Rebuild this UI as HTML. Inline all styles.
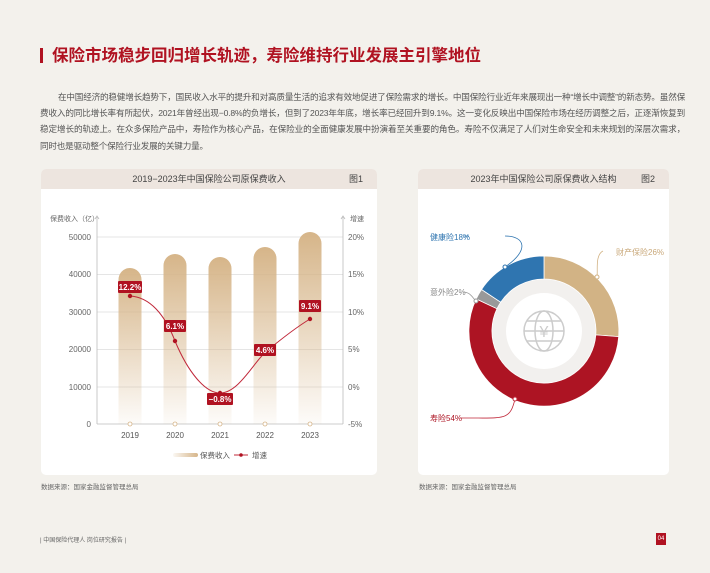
<!DOCTYPE html>
<html><head><meta charset="utf-8"><style>
body{margin:0;width:710px;height:573px;background:#f3f1ec;font-family:"Liberation Sans","Noto Sans CJK SC",sans-serif;position:relative;overflow:hidden}
.t{position:absolute;left:40px;top:42px;font-size:16.5px;font-weight:bold;color:#b01221;letter-spacing:0px}
.t:before{content:"";display:inline-block;width:3px;height:15px;background:#b01221;margin-right:9px;vertical-align:-2px}
.p{position:absolute;left:40px;top:89px;width:645px;font-size:8.6px;line-height:16.2px;color:#555;text-indent:18px;text-align:justify;letter-spacing:-0.2px}
.card{position:absolute;background:#fff;border-radius:5px;overflow:hidden}
.hd{height:20px;background:#ede5df;font-size:9px;color:#444;line-height:20px;text-align:center;position:relative}
.hd span{position:absolute;right:14px}
.src{position:absolute;font-size:6.5px;color:#666}
</style></head><body>
<div class="t">保险市场稳步回归增长轨迹，寿险维持行业发展主引擎地位</div>
<div class="p">在中国经济的稳健增长趋势下，国民收入水平的提升和对高质量生活的追求有效地促进了保险需求的增长。中国保险行业近年来展现出一种“增长中调整”的新态势。虽然保费收入的同比增长率有所起伏，2021年曾经出现−0.8%的负增长，但到了2023年年底，增长率已经回升到9.1%。这一变化反映出中国保险市场在经历调整之后，正逐渐恢复到稳定增长的轨迹上。在众多保险产品中，寿险作为核心产品，在保险业的全面健康发展中扮演着至关重要的角色。寿险不仅满足了人们对生命安全和未来规划的深层次需求，同时也是驱动整个保险行业发展的关键力量。</div>

<div class="card" style="left:41px;top:169px;width:336px;height:306px">
<div class="hd">2019−2023年中国保险公司原保费收入<span>图1</span></div>
</div>
<div class="card" style="left:418px;top:169px;width:251px;height:306px">
<div class="hd">2023年中国保险公司原保费收入结构<span>图2</span></div>
</div>

<svg style="position:absolute;left:0;top:0" width="710" height="573" font-family="Liberation Sans, Noto Sans CJK SC, sans-serif">
<defs><linearGradient id="g" x1="0" y1="0" x2="0" y2="1"><stop offset="0" stop-color="#d6b589"/><stop offset="1" stop-color="#d6b589" stop-opacity="0.05"/></linearGradient>
<linearGradient id="gl" x1="0" x2="1"><stop offset="0" stop-color="#d6b589" stop-opacity="0.1"/><stop offset="1" stop-color="#d6b589"/></linearGradient></defs>
<g stroke="#ddd" stroke-width="0.8">
<line x1="97" x2="343" y1="237" y2="237"/><line x1="97" x2="343" y1="274.5" y2="274.5"/><line x1="97" x2="343" y1="312" y2="312"/><line x1="97" x2="343" y1="349.5" y2="349.5"/><line x1="97" x2="343" y1="387" y2="387"/></g>
<g stroke="#bbb" stroke-width="0.8" fill="none"><line x1="97" y1="217" x2="97" y2="424"/><line x1="343" y1="217" x2="343" y2="424"/><line x1="97" y1="424" x2="343" y2="424"/>
<path d="M95 219 L97 216 L99 219 M341 219 L343 216 L345 219"/></g>
<g font-size="8" fill="#666" text-anchor="end"><text x="91" y="240">50000</text><text x="91" y="277">40000</text><text x="91" y="315">30000</text><text x="91" y="352">20000</text><text x="91" y="390">10000</text><text x="91" y="427">0</text></g>
<g font-size="8" fill="#666"><text x="348" y="240">20%</text><text x="348" y="277">15%</text><text x="348" y="315">10%</text><text x="348" y="352">5%</text><text x="348" y="390">0%</text><text x="348" y="427">-5%</text>
<text x="50" y="221" font-size="7">保费收入（亿）</text><text x="350" y="221" font-size="7">增速</text></g>
<g fill="url(#g)">
<path d="M118.5 424V279.5a11.5 11.5 0 0 1 23 0V424z"/>
<path d="M163.5 424V265.5a11.5 11.5 0 0 1 23 0V424z"/>
<path d="M208.5 424V268.5a11.5 11.5 0 0 1 23 0V424z"/>
<path d="M253.5 424V258.5a11.5 11.5 0 0 1 23 0V424z"/>
<path d="M298.5 424V243.5a11.5 11.5 0 0 1 23 0V424z"/></g>
<g fill="#fff" stroke="#d6b589" stroke-width="0.8"><circle cx="130" cy="424" r="2"/><circle cx="175" cy="424" r="2"/><circle cx="220" cy="424" r="2"/><circle cx="265" cy="424" r="2"/><circle cx="310" cy="424" r="2"/></g>
<g font-size="8" fill="#555" text-anchor="middle"><text x="130" y="438">2019</text><text x="175" y="438">2020</text><text x="220" y="438">2021</text><text x="265" y="438">2022</text><text x="310" y="438">2023</text></g>
<path d="M130 296 C150 297,165 315,175 341 C188 372,205 393,220 393 C238 393,252 365,265 352.5 C280 340,295 328,310 319" fill="none" stroke="#c0283a" stroke-width="1"/>
<g fill="#b01221"><circle cx="130" cy="296" r="2.2"/><circle cx="175" cy="341" r="2.2"/><circle cx="220" cy="393" r="2.2"/><circle cx="265" cy="352.5" r="2.2"/><circle cx="310" cy="319" r="2.2"/>
<rect x="118" y="281" width="24" height="12" rx="1"/><rect x="164" y="320" width="22" height="12" rx="1"/><rect x="207" y="393" width="26" height="12" rx="1"/><rect x="254" y="344" width="22" height="12" rx="1"/><rect x="299" y="300" width="22" height="12" rx="1"/></g>
<g font-size="8" fill="#fff" font-weight="bold" text-anchor="middle"><text x="130" y="290">12.2%</text><text x="175" y="329">6.1%</text><text x="220" y="402">−0.8%</text><text x="265" y="353">4.6%</text><text x="310" y="309">9.1%</text></g>
<rect x="173" y="453" width="25" height="4" rx="2" fill="url(#gl)"/><text x="200" y="458" font-size="7.5" fill="#555">保费收入</text>
<line x1="234" y1="455" x2="248" y2="455" stroke="#c0283a"/><circle cx="241" cy="455" r="1.8" fill="#b01221"/><text x="252" y="458" font-size="7.5" fill="#555">增速</text>

<g transform="translate(544,331)">
<circle r="52" fill="#f2f0ee"/><circle r="38" fill="#fff"/>
<g fill="none" stroke="#ccc" stroke-width="1.5"><circle r="20"/><ellipse rx="9" ry="20"/><line x1="-20" x2="20"/><path d="M-17 -10h34M-17 10h34"/></g>
<text x="0" y="6" font-size="16" fill="#ccc" text-anchor="middle">¥</text>
<g stroke="#fff" stroke-width="0.8">
<path d="M0 -75A75 75 0 0 1 74.7 5.6L51.8 3.9A52 52 0 0 0 0 -52Z" fill="#d2b385"/>
<path d="M74.7 5.6A75 75 0 1 1 -67.8 -32.1L-47 -22.3A52 52 0 1 0 51.8 3.9Z" fill="#ad1423"/>
<path d="M-67.8 -32.1A75 75 0 0 1 -62.5 -41.5L-43.3 -28.8A52 52 0 0 0 -47 -22.3Z" fill="#999"/>
<path d="M-62.5 -41.5A75 75 0 0 1 0 -75L0 -52A52 52 0 0 0 -43.3 -28.8Z" fill="#2f75b0"/></g>
</g>
<g fill="none" stroke-width="0.8">
<path d="M505 236 C525 236,530 250,505 267" stroke="#2f75b0"/><path d="M469 236h-5" stroke="#2f75b0"/>
<path d="M603 251 C595 255,598 270,597 277" stroke="#d2b385"/>
<path d="M515 399 C510 420,505 418,470 418 h-10" stroke="#c0283a"/>
<path d="M463 292 C470 292,472 297,476 301" stroke="#999"/></g>
<g fill="#fff" stroke-width="1"><circle cx="505" cy="267" r="2" stroke="#2f75b0"/><circle cx="597" cy="277" r="2" stroke="#d2b385"/><circle cx="515" cy="399" r="2" stroke="#c0283a"/><circle cx="476" cy="301" r="2" stroke="#999"/></g>
<g font-size="8"><text x="430" y="240" fill="#2f75b0">健康险18%</text><text x="616" y="255" fill="#c9a87a">财产保险26%</text><text x="430" y="295" fill="#888">意外险2%</text><text x="430" y="421" fill="#ad1423">寿险54%</text></g>
</svg>
<div class="src" style="left:41px;top:481px">数据来源：国家金融监督管理总局</div>
<div class="src" style="left:419px;top:481px">数据来源：国家金融监督管理总局</div>
<div class="src" style="left:40px;top:535px;font-size:6px">| 中国保险代理人 岗位研究报告 |</div>
<div style="position:absolute;left:656px;top:533px;width:10px;height:12px;background:#b01221;color:#fff;font-size:6px;line-height:12px;text-align:center">04</div>
</body></html>
